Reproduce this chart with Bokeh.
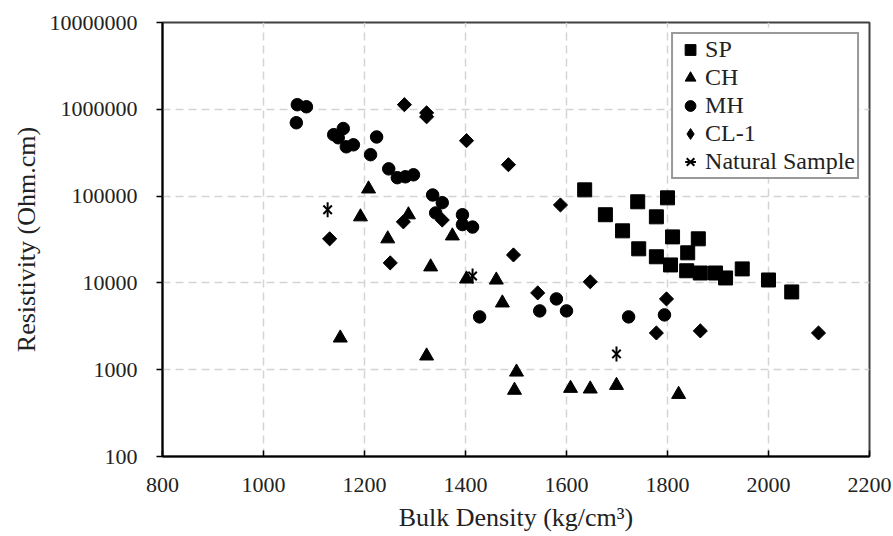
import math
from bokeh.plotting import figure
from bokeh.models import FixedTicker, PrintfTickFormatter, Legend, LegendItem
from bokeh.embed import file_html
from bokeh.resources import INLINE

# ---------------- data ----------------
sp_density = [1636, 1677, 1711, 1741, 1743, 1778, 1778, 1800, 1806, 1810,
              1838, 1840, 1861, 1865, 1895, 1915, 1948, 2000, 2046]
sp_resist = [118000, 61000, 39800, 86000, 24700, 57700, 20000, 95500, 16100, 33900,
             13800, 22200, 32200, 13000, 13000, 11400, 14500, 10800, 7870]

ch_density = [1208, 1192, 1246, 1287, 1374, 1331, 1402, 1461, 1473, 1152,
              1323, 1501, 1497, 1608, 1647, 1699, 1822]
ch_resist = [121000, 57700, 32200, 60900, 34800, 15300, 11100, 10800, 5880, 2320,
             1440, 940, 580, 610, 600, 660, 520]

mh_density = [1067, 1085, 1065, 1139, 1158, 1148, 1164, 1178, 1224, 1212,
              1248, 1265, 1281, 1297, 1335, 1354, 1341, 1394, 1394, 1414,
              1428, 1547, 1580, 1600, 1723, 1794]
mh_resist = [1130000, 1070000, 700000, 510000, 600000, 470000, 370000, 390000, 480000, 300000,
             206000, 163000, 167000, 176000, 103000, 84000, 64000, 61000, 47000, 44000,
             4060, 4760, 6540, 4760, 4060, 4280]

cl_density = [1131, 1251, 1277, 1279, 1323, 1323, 1354, 1402, 1485, 1588,
              1495, 1647, 1543, 1798, 1778, 1865, 2099]
cl_resist = [32200, 17000, 50500, 1130000, 910000, 820000, 53000, 435000, 230000, 79000,
             21000, 10300, 7670, 6540, 2650, 2800, 2650]

ns_density = [1127, 1414, 1699]
ns_resist = [69500, 12000, 1520]

x_ticks = [800, 1000, 1200, 1400, 1600, 1800, 2000, 2200]
y_ticks = [100, 1000, 10000, 100000, 1000000, 10000000]

FONT = "Liberation Serif"
TXT = "#222222"

p = figure(width=893, height=536, y_axis_type="log",
           x_range=(800, 2200), y_range=(100, 10000000),
           output_backend="svg", toolbar_location=None,
           min_border_left=162, min_border_right=24,
           min_border_top=22, min_border_bottom=80)

p.background_fill_color = "white"
p.border_fill_color = "white"
p.outline_line_color = "#404040"
p.outline_line_width = 2

# axes
p.xaxis.ticker = FixedTicker(ticks=x_ticks, minor_ticks=[])
p.yaxis.ticker = FixedTicker(ticks=y_ticks, minor_ticks=[])
p.yaxis.formatter = PrintfTickFormatter(format="%d")

for ax in (p.xaxis, p.yaxis):
    ax.axis_line_color = "black"
    ax.axis_line_width = 2
    ax.major_tick_line_color = "black"
    ax.major_tick_line_width = 1.5
    ax.minor_tick_line_color = None
    ax.major_label_text_font = FONT
    ax.major_label_text_font_size = "22px"
    ax.major_label_text_color = TXT
    ax.axis_label_text_font = FONT
    ax.axis_label_text_font_size = "26px"
    ax.axis_label_text_font_style = "normal"
    ax.axis_label_text_color = TXT

p.xaxis.major_tick_in = 6
p.xaxis.major_tick_out = 0
p.yaxis.major_tick_in = 0
p.yaxis.major_tick_out = 6
p.xaxis.major_label_standoff = 21
p.yaxis.major_label_standoff = 19
p.xaxis.axis_label_standoff = 8
p.yaxis.axis_label_standoff = 6

p.xaxis.axis_label = "Bulk Density (kg/cm³)"
p.yaxis.axis_label = "Resistivity (Ohm.cm)"

# grid
for g in (p.xgrid, p.ygrid):
    g.grid_line_color = "#d4d4d4"
    g.grid_line_width = 1.5
    g.grid_line_dash = "8 5"

# markers
r_sp = p.scatter(sp_density, sp_resist, marker="square", size=14,
                 fill_color="black", line_color="black")
r_ch = p.scatter(ch_density, ch_resist, marker="triangle", size=14,
                 fill_color="black", line_color="black")
r_mh = p.scatter(mh_density, mh_resist, marker="circle", size=12.5,
                 fill_color="black", line_color="black")
r_cl_leg = p.scatter(cl_density, cl_resist, marker="diamond", size=12,
                     fill_color="black", line_color="black")
r_cl = p.scatter(cl_density, cl_resist, marker="square", angle=math.pi / 4, size=10,
                 fill_color="black", line_color="black")
r_ns_x = p.scatter(ns_density, ns_resist, marker="x", size=12,
                   line_color="black", line_width=2)
r_ns_v = p.scatter(ns_density, ns_resist, marker="dash", angle=math.pi / 2, size=15,
                   line_color="black", line_width=2)

legend = Legend(items=[
    LegendItem(label="SP", renderers=[r_sp]),
    LegendItem(label="CH", renderers=[r_ch]),
    LegendItem(label="MH", renderers=[r_mh]),
    LegendItem(label="CL-1", renderers=[r_cl_leg]),
    LegendItem(label="Natural Sample", renderers=[r_ns_x, r_ns_v]),
], location="top_right")
legend.margin = 10
legend.padding = 2
legend.spacing = 1
legend.glyph_width = 30
legend.glyph_height = 27
legend.label_height = 27
legend.label_standoff = 0
legend.label_text_font = FONT
legend.label_text_font_size = "24px"
legend.label_text_color = TXT
legend.border_line_color = "#333333"
legend.border_line_width = 2
legend.background_fill_color = "white"
legend.background_fill_alpha = 1.0
p.add_layout(legend)

open("out.html", "w").write(file_html(p, INLINE))
